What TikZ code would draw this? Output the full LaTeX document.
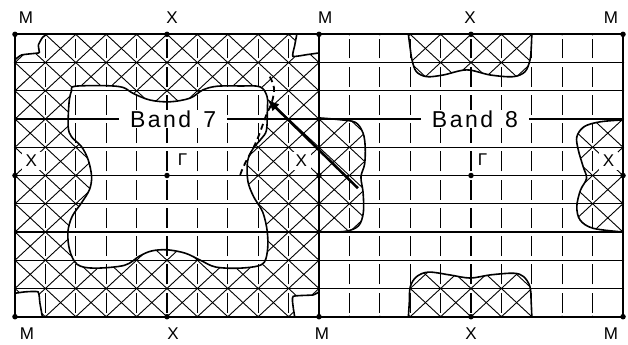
\documentclass[tikz,border=0pt]{standalone}
\usepackage{fontspec}
\newfontfamily\leroy{Liberation Sans}
\usetikzlibrary{arrows.meta}

% Fermi surface pieces (cell units)
\newcommand\bandsevenedge{plot[smooth cycle, tension=0.55] coordinates {
  (1.97,8.16) (3.0,8.18) (3.55,8.12) (3.9,7.9) (4.45,7.67) (5.1,7.61) (5.76,7.74)
  (6.18,8.03) (6.64,8.16) (7.4,8.17) (8.06,8.14) (8.29,7.8) (8.3,7.3) (8.27,6.6)
  (8.1,6.3) (7.83,5.95) (7.65,5.5) (7.66,4.8) (7.85,4.25) (8.15,3.7) (8.3,3.0)
  (8.3,2.3) (8.12,1.85) (7.4,1.72) (6.6,1.76) (6.1,2.0) (5.6,2.25) (5.0,2.37)
  (4.5,2.33) (4.1,2.15) (3.6,1.82) (2.6,1.72) (2.05,1.85) (1.8,2.35) (1.74,3.0)
  (1.88,3.55) (2.2,4.05) (2.45,4.5) (2.52,4.96) (2.41,5.55) (2.19,6.02) (1.86,6.37)
  (1.75,6.73) (1.78,7.6) (1.86,8.0)}}
\newcommand\cornertl{plot[smooth, tension=0.3] coordinates {
  (0,9.1) (0.22,9.27) (0.7,9.33) (0.8,9.36) (0.77,9.62) (0.9,9.88) (1.04,10)}}
\newcommand\cornertr{plot[smooth, tension=0.3] coordinates {
  (9.27,10) (9.2,9.6) (9.14,9.22) (9.6,9.28) (10,9.34)}}
\newcommand\cornerbl{plot[smooth, tension=0.3] coordinates {
  (0,0.83) (0.33,0.88) (0.76,0.88) (0.82,0.48) (0.9,0)}}
\newcommand\cornerbr{plot[smooth, tension=0.3] coordinates {
  (9.2,0) (9.15,0.35) (9.15,0.72) (9.8,0.77) (10,0.88)}}
\newcommand\pockettop{plot[smooth, tension=0.55] coordinates {
  (12.94,10) (13.0,9.5) (13.06,9.09) (13.2,8.68) (13.54,8.5) (14.09,8.56) (14.86,8.74)
  (15.63,8.56) (16.39,8.5) (16.78,8.68) (16.94,9.09) (16.98,9.5) (17.0,10)}}
\newcommand\pocketbottom{plot[smooth, tension=0.55] coordinates {
  (12.94,0) (12.97,0.5) (13.0,1.05) (13.2,1.41) (13.6,1.58) (14.3,1.48) (14.97,1.37)
  (15.63,1.48) (16.4,1.54) (16.73,1.42) (16.94,1.06) (16.98,0.5) (17.0,0)}}
\newcommand\pocketleft{plot[smooth, tension=0.55] coordinates {
  (10,7.04) (10.65,6.98) (11.2,6.88) (11.45,6.5) (11.52,6.0) (11.5,5.4) (11.38,4.95)
  (11.45,4.4) (11.46,3.7) (11.3,3.22) (10.85,3.02) (10,3.0)}}
\newcommand\pocketright{plot[smooth, tension=0.55] coordinates {
  (20,6.97) (19.24,6.9) (18.72,6.73) (18.48,6.37) (18.53,5.9) (18.69,5.31) (18.8,4.9)
  (18.6,4.48) (18.48,3.9) (18.59,3.42) (19.02,3.13) (20,3.0)}}
\newcommand\bandtext[1]{B\kern2.5pt a\kern2.5pt n\kern2.5pt d\kern12pt #1}

\tikzset{
  hatch/.style={line width=0.9pt},
  gridh/.style={line width=1.3pt},
  gridv/.style={line width=1.3pt, dash pattern=on 0pt off 4.2pt on 19.84pt off 4.2pt},
  border/.style={line width=1.8pt},
  fermi/.style={line width=1.6pt},
  kpoint/.style={circle, fill, inner sep=0pt, minimum size=5.5pt},
  tick/.style={circle, fill, inner sep=0pt, minimum size=2.4pt},
  klabel/.style={font=\leroy\fontsize{17}{17}\selectfont, inner sep=0pt},
  klabelbox/.style={klabel, fill=white, inner sep=3.5pt},
  bandlabel/.style={fill=white, font=\leroy\fontsize{23}{23}\selectfont,
    minimum width=108pt, inner sep=1pt},
}

\begin{document}
\begin{tikzpicture}[x=30.4pt, y=28.24pt]
\useasboundingbox (-0.493,-0.967) rectangle (20.164,11.215);

% band 7: hatched outside the hole
\begin{scope}
  \clip (0,0) rectangle (10,10);
  \foreach \c in {-10,...,9} \draw[hatch] (\c,0) -- ++(10,10);
  \foreach \c in {1,...,20} \draw[hatch] (\c,0) -- ++(-10,10);
\end{scope}
\fill[white] \bandsevenedge;
\fill[white] \cornertl -- (0,10) -- cycle;
\fill[white] \cornertr -- (10,10) -- cycle;
\fill[white] \cornerbl -- (0,0) -- cycle;
\fill[white] \cornerbr -- (10,0) -- cycle;

% band 8: hatched pockets
\begin{scope}
  \clip \pockettop -- cycle \pocketbottom -- cycle \pocketleft -- cycle \pocketright -- cycle;
  \foreach \c in {0,...,19} \draw[hatch] (\c,0) -- ++(10,10);
  \foreach \c in {11,...,30} \draw[hatch] (\c,0) -- ++(-10,10);
\end{scope}

% labels inside the zone
\node[klabelbox] (lX5) at (0.54,5.51) {X};
\node[klabelbox] (lX6) at (9.42,5.51) {X};
\node[klabelbox] (lX7) at (19.52,5.51) {X};

% grid
\foreach \y in {1,...,9} \draw[gridh] (0,\y) -- (20,\y);
\foreach \x in {1,...,9,11,12,...,19} \draw[gridv] (\x,0) -- (\x,10);
\draw[border] (0,0) rectangle (20,10) (10,0) -- (10,10);

% Fermi surface lines
\draw[fermi] \bandsevenedge;
\draw[fermi] \cornertl;
\draw[fermi] \cornertr;
\draw[fermi] \cornerbl;
\draw[fermi] \cornerbr;
\draw[fermi] \pockettop;
\draw[fermi] \pocketbottom;
\draw[fermi] \pocketleft;
\draw[fermi] \pocketright;
\draw[fermi, line width=1.8pt, dash pattern=on 6pt off 4pt] plot[smooth, tension=0.6] coordinates {
  (8.38,8.5) (8.52,8.1) (8.45,7.6) (8.25,7.1) (8.05,6.5) (7.85,6.0) (7.6,5.5) (7.45,5.15) (7.38,4.92)};

% shift vector
\coordinate (qstart) at (11.28,4.55);
\coordinate (qend) at (8.3,7.7);
\draw[line width=2.6pt, -{Latex[length=12pt, width=10pt]}] (qstart) -- (qend);

% band labels
\node[bandlabel] (band7) at (5.2,7) {\bandtext{7}};
\node[bandlabel] (band8) at (15.13,7) {\bandtext{8}};

% symmetry points
\foreach \y in {1,...,9} {
  \node[tick] (tl\y) at (0,\y) {};
  \node[tick] (tm\y) at (10,\y) {};
  \node[tick] (tr\y) at (20,\y) {};
}
\foreach \x in {1,...,9,11,12,...,19} {
  \node[tick] (tb\x) at (\x,0) {};
  \node[tick] (tt\x) at (\x,10) {};
}
\foreach \x/\y/\n in {0/0/M1, 10/0/M2, 20/0/M3, 0/10/M4, 10/10/M5, 20/10/M6,
  5/0/X1, 15/0/X2, 5/10/X3, 15/10/X4, 0/5/X5, 10/5/X6, 20/5/X7, 5/5/G1, 15/5/G2}
  \node[kpoint] (\n) at (\x,\y) {};

% labels
\node[klabel] (lM4) at (0.36,10.58) {M};
\node[klabel] (lX3) at (5.17,10.58) {X};
\node[klabel] (lM5) at (10.2,10.58) {M};
\node[klabel] (lX4) at (14.97,10.58) {X};
\node[klabel] (lM6) at (19.6,10.58) {M};
\node[klabel] (lM1) at (0.39,-0.6) {M};
\node[klabel] (lX1) at (5.2,-0.6) {X};
\node[klabel] (lM2) at (10.1,-0.6) {M};
\node[klabel] (lX2) at (15.0,-0.6) {X};
\node[klabel] (lM3) at (19.6,-0.6) {M};
\node[klabel] (lG1) at (5.51,5.55) {Γ};
\node[klabel] (lG2) at (15.38,5.55) {Γ};
\end{tikzpicture}
\end{document}
